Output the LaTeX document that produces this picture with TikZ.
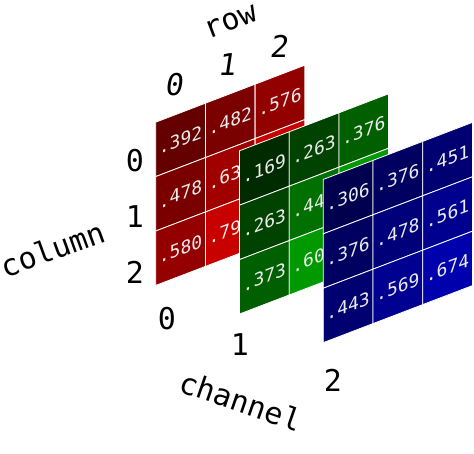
\documentclass[tikz,border=0pt]{standalone}
\usepackage{fontspec}
\setmainfont{DejaVu Sans Mono}
\begin{document}
\begin{tikzpicture}[x=1pt, y=-1pt,
  cell/.style={draw=white, line width=0.8pt},
  val/.style={text=white!92!black, font=\fontsize{18}{18}\selectfont, yslant=0.38, inner sep=0pt},
  idx/.style={font=\fontsize{30}{30}\selectfont, inner sep=0pt},
  axis/.style={font=\fontsize{30}{30}\selectfont, inner sep=0pt}]
  \useasboundingbox (0,0) rectangle (474,454);
  % Channel 0 -- red
  \foreach \i/\j/\v/\t in {0/0/39.2/.392, 1/0/48.2/.482, 2/0/57.6/.576,
      0/1/47.8/.478, 1/1/63/.63\phantom{0}, 2/1/78/{},
      0/2/58/.580, 1/2/79/.79\phantom{0}, 2/2/99/{}} {
    \filldraw[cell, fill=red!\v!black, shift={({155.7+49.7*\i},{122.2-19*\i+54.4*\j})}]
      (0,0) -- (49.7,-19) -- (49.7,35.4) -- (0,54.4) -- cycle;
    \node[val] (r-\i-\j) at ({155.7+49.7*(\i+0.5)},{122.2-19*(\i+0.5)+54.4*(\j+0.5)}) {\t};
  }
  % Channel 1 -- green
  \foreach \i/\j/\v/\t in {0/0/16.9/.169, 1/0/26.3/.263, 2/0/37.6/.376,
      0/1/26.3/.263, 1/1/44/.44\phantom{0}, 2/1/60/{},
      0/2/37.3/.373, 1/2/60/.60\phantom{0}, 2/2/78/{}} {
    \filldraw[cell, fill=green!\v!black, shift={({239.5+49.7*\i},{150.8-19*\i+54.4*\j})}]
      (0,0) -- (49.7,-19) -- (49.7,35.4) -- (0,54.4) -- cycle;
    \node[val] (g-\i-\j) at ({239.5+49.7*(\i+0.5)},{150.8-19*(\i+0.5)+54.4*(\j+0.5)}) {\t};
  }
  % Channel 2 -- blue
  \foreach \i/\j/\v/\t in {0/0/30.6/.306, 1/0/37.6/.376, 2/0/45.1/.451,
      0/1/37.6/.376, 1/1/47.8/.478, 2/1/56.1/.561,
      0/2/44.3/.443, 1/2/56.9/.569, 2/2/67.4/.674} {
    \filldraw[cell, fill=blue!\v!black, shift={({323.3+49.7*\i},{179.4-19*\i+54.4*\j})}]
      (0,0) -- (49.7,-19) -- (49.7,35.4) -- (0,54.4) -- cycle;
    \node[val] (b-\i-\j) at ({323.3+49.7*(\i+0.5)},{179.4-19*(\i+0.5)+54.4*(\j+0.5)}) {\t};
  }
  % Labels row
  \node[axis, rotate=21] (rowlabel) at (231,22) {row};
  \node[idx, xslant=0.15] (row0) at (175,85) {0};
  \node[idx, xslant=0.15] (row1) at (228,65) {1};
  \node[idx, xslant=0.15] (row2) at (280,46) {2};
  % Labels column
  \node[axis, rotate=20] (collabel) at (53,249) {column};
  \node[idx] (col0) at (135,161) {0};
  \node[idx] (col1) at (135,217) {1};
  \node[idx] (col2) at (135,272) {2};
  % Labels channel
  \node[axis, rotate=-19] (chlabel) at (241,401) {channel};
  \node[idx] (ch0) at (167,319) {0};
  \node[idx] (ch1) at (240,345) {1};
  \node[idx] (ch2) at (333,380) {2};
\end{tikzpicture}
\end{document}
